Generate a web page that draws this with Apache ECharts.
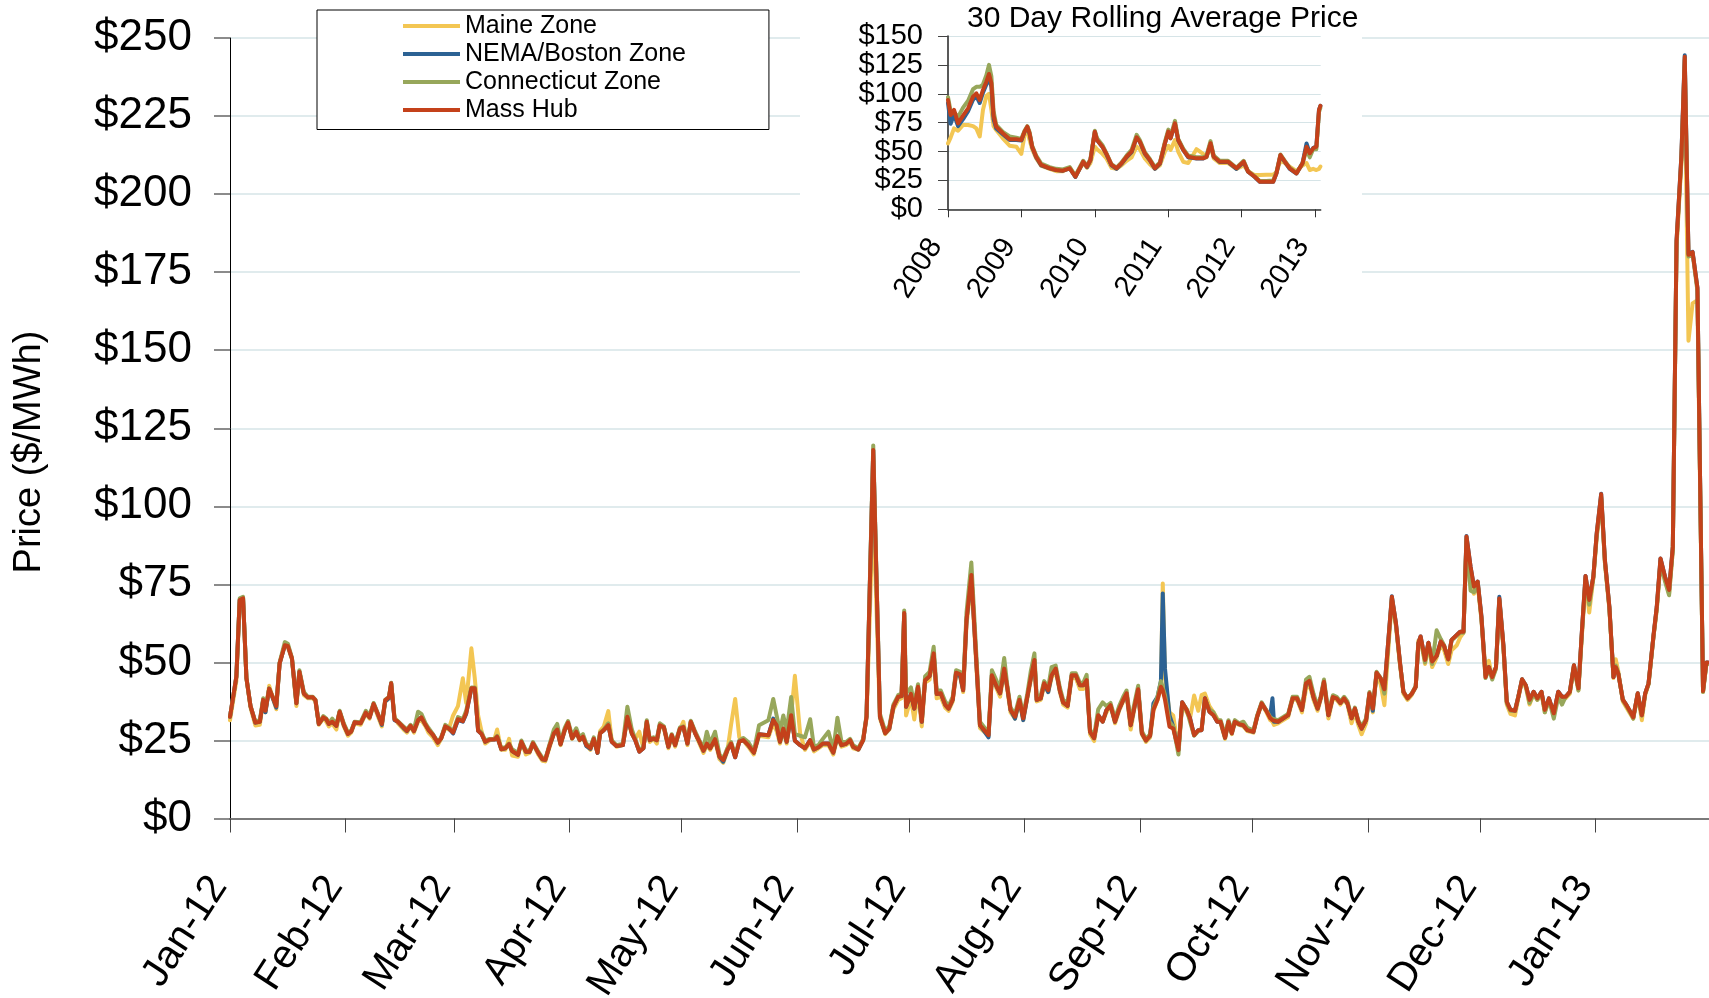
<!DOCTYPE html>
<html>
<head>
<meta charset="utf-8">
<title>ISO-NE Day-Ahead Zonal Prices</title>
<script src="https://cdn.jsdelivr.net/npm/echarts@6/dist/echarts.min.js"></script>
<style>
  html, body { margin: 0; padding: 0; background: #ffffff; }
  #chart { width: 1709px; height: 998px; }
</style>
</head>
<body>
<div id="chart"></div>
<script>
// ---- Daily prices, Jan 2012 - Jan 2013 ($/MWh); x = days after 1 Jan 2012 ----
const dayOffset = [
  0, 1.7, 2.6, 3.5, 4.4, 5.5, 6.8, 8.0, 8.9, 9.5,
  10.5, 12.4, 13.3, 14.7, 15.5, 16.6, 17.8, 18.6, 19.8, 20.9,
  22.2, 22.9, 23.8, 25.0, 25.8, 26.5, 27.4, 28.5, 29.4, 30.5,
  31.6, 32.5, 33.4, 35.0, 36.4, 37.4, 38.5, 39.7, 40.7, 41.6,
  42.6, 43.2, 44.1, 45.0, 46.5, 47.4, 48.4, 49.3, 50.4, 51.3,
  52.4, 53.2, 54.4, 55.7, 56.6, 57.7, 58.6, 59.8, 61.1, 62.4,
  63.3, 64.7, 65.6, 66.5, 67.4, 68.4, 69.6, 70.9, 71.6, 72.7,
  73.8, 74.8, 75.6, 77.2, 78.1, 79.3, 80.3, 81.2, 82.6, 83.7,
  84.5, 85.7, 86.8, 87.7, 88.6, 89.7, 90.6, 91.7, 92.8, 93.7,
  94.6, 95.5, 96.6, 97.5, 98.5,
  99.2, 100.2, 101.4, 102.3, 103.6, 105.3, 106.5, 107.7, 108.6, 109.7,
  110.8, 111.7, 112.5, 113.5, 114.4, 115.2, 116.3, 117.5, 118.4, 119.3,
  120.6, 121.5, 122.6, 123.5, 124.7, 125.8, 126.9, 127.8, 128.7, 130.0,
  131.2, 132.2, 133.3, 134.3, 135.4, 136.5, 137.6, 138.9, 140.4, 141.8,
  144.3, 145.6, 146.5, 147.4, 148.3, 149.2, 150.4, 151.4, 152.8, 154.1,
  155.5, 156.5, 157.7, 158.9, 160.4, 161.7, 162.8, 163.9, 165.1, 166.2,
  167.0, 168.4, 169.7, 170.6, 172.4, 174.2, 175.6, 176.7, 177.8, 179.1,
  180.0, 180.7, 181.2, 182.5, 183.4, 184.4, 185.4, 186.3, 187.5, 188.6,
  189.4, 190.5, 191.7, 192.6, 193.7, 194.6, 195.7, 196.5, 197.4, 198.7,
  201.0, 203.3, 204.2, 205.5, 206.4, 207.5, 208.3, 209.2, 210.4, 211.6,
  212.6, 213.7, 214.6, 215.6, 216.2, 217.3, 218.2, 219.3, 220.2, 221.3,
  222.4, 223.3, 224.5, 225.6, 226.7, 227.8, 228.7, 229.6, 230.5, 231.6,
  232.7, 233.9, 234.9, 236.0, 237.2, 238.3, 239.4, 240.3, 241.4, 242.6,
  243.4, 244.4, 245.5, 246.6, 247.5, 248.6, 249.5, 250.0, 250.6, 251.8,
  252.8, 254.2, 255.2, 256.4, 257.3, 258.4, 259.5, 260.4, 261.3, 262.5,
  263.6, 264.6, 265.5, 266.7, 267.6, 268.5, 269.3, 270.5, 271.6, 272.7,
  274.3, 275.3, 276.5, 277.6, 278.8, 279.4, 279.8, 280.9, 282.3, 283.6,
  284.8, 286.0, 287.3, 288.4, 289.3, 290.4, 291.5, 292.3, 293.2, 294.4,
  295.6, 296.6, 297.6,
  298.6, 299.5, 300.6, 301.5, 302.4, 303.3, 304.5, 305.4, 306.3, 307.3,
  308.4, 309.4, 311.4, 312.5, 313.6, 314.5, 315.6, 316.7, 317.8, 318.5,
  319.1, 320.3, 321.2, 322.2, 323.4, 324.5, 325.4, 326.5, 327.4, 328.8,
  329.7, 330.6, 331.4, 332.5, 333.4, 334.4, 335.4, 336.5, 337.4, 338.3,
  339.3, 340.2, 341.3, 342.2, 343.2, 344.4, 345.3, 346.3, 347.3, 348.3,
  349.4, 350.4, 351.5, 352.4, 353.5, 354.8, 356.0, 357.0, 358.0, 359.1,
  360.2, 361.4, 362.3, 363.3, 364.3, 365.4, 366.3, 367.5, 368.5, 369.7,
  370.8, 371.4, 372.1, 373.3, 374.3, 375.3, 376.1, 377.3, 378.4, 379.3,
  380.2, 381.5, 382.4, 383.4, 384.6, 385.7, 386.7, 387.7, 389.0, 389.9,
  390.9, 392.0, 393.3, 394.8, 395.7, 396.1
];

const massHub = [
  32.6, 45.4, 70, 70.5, 45, 36, 30.7, 31, 38, 34.5,
  41.6, 36, 49.7, 55.5, 55.3, 51.3, 36.9, 47, 40, 38.8,
  38.8, 37.9, 30.3, 32.4, 31.8, 30.3, 31, 29.7, 34.2, 30,
  27.1, 27.9, 30.8, 30.5, 33.9, 32.4, 36.7, 33.2, 30.3, 37.9,
  38.8, 43.3, 31.7, 31, 29.2, 28.1, 29.7, 28, 31.5, 32.4,
  30, 28.4, 26.8, 24.3, 25.7, 29.5, 28.9, 27.5, 31.8, 31.2,
  33.7, 41.7, 41.7, 28.1, 27.1, 24.6, 25.3, 25.3, 26.2, 22.2,
  22.5, 23.8, 21.6, 20.4, 24.6, 21.4, 21.4, 24.1, 21.1, 19,
  18.8, 23.5, 27.2, 28.5, 23.8, 28.3, 30.7, 25.7, 27.8, 25.2,
  26.2, 23.5, 22.5, 25.5, 21.1,
  27.3, 28.3, 29.9, 24.6, 23.2, 23.5, 32.6, 27.3, 25.1, 21.4,
  22.5, 31, 25.1, 25.6, 25.1, 29.9, 29.2, 23, 26.7, 23.5,
  28.8, 29.3, 24, 31, 27.3, 24.6, 21.7, 24, 22.5, 25.4,
  19.8, 18.7, 21.9, 24, 19.6, 24.6, 25.1, 23.5, 21.1, 27,
  26.7, 31.5, 29.9, 24.6, 28.8, 24.6, 33.1, 24.9, 23.5, 22.5,
  25.1, 22.1, 22.8, 24, 24, 21.1, 26.4, 23.5, 23.9, 25.1,
  23, 22.1, 25.1, 32.6, 118, 32.6, 27.3, 28.8, 35.8, 39,
  39.2, 65.8, 35.8, 39.9, 35.2, 42.2, 31, 44.3, 45.6, 52.9,
  39.9, 40.1, 36.4, 35.2, 38.1, 46.7, 46.2, 41.1, 63.6, 78,
  29.9, 26.7, 45.9, 42.2, 40.1, 48, 42.2, 34.8, 32.6, 38,
  32.1, 39, 44.9, 50.8, 38, 38.5, 43.3, 41.1, 45.9, 48,
  41.1, 37.2, 36.1, 45.9, 45.9, 42.7, 42.7, 44.3, 27.8, 25.7,
  33.1, 31, 34.7, 36.3, 31, 35, 38, 40.1, 29.9, 36.9,
  41.4, 27.3, 25, 26.5, 34.8, 38, 42.2, 41, 38, 29.4,
  28.8, 21.9, 37.2, 34.8, 32.1, 26.7, 28.3, 28.3, 38.5, 34.2,
  33.1, 31, 31, 25.9, 31, 27.3, 31, 30.2, 29.9, 28.3,
  27.8, 32.6, 36.9, 34.8, 32.1, 31.5, 31, 31, 32.1, 33.1,
  38.5, 38.5, 34.8, 43.3, 44.1, 38.9, 35.2, 38.5, 43.8, 33.1,
  38.9, 38.5, 37,
  38.5, 36.9, 32.1, 35.2, 31, 28.8, 31.5, 40.1, 35.2, 46.7,
  44.9, 41.4, 71, 62.5, 49.7, 40.6, 38.5, 39.9, 42.2, 56.1,
  58.3, 50.8, 56.3, 50.3, 52.1, 56.7, 55.3, 51, 57.2, 58.8,
  59.8, 59.8, 90.3, 80.6, 74.3, 75.9, 64.6, 45.3, 48.5, 45.3,
  48.5, 70.5, 55.5, 37.4, 34.8, 34.5, 39, 44.6, 42.7, 38,
  40.6, 38.5, 40.6, 34.8, 38.5, 33.7, 40.6, 39, 39, 40.6,
  49.1, 41.7, 59.3, 77.7, 70, 77.5, 91.3, 103.9, 82.8, 67.8,
  45.3, 48.5, 46.3, 38.1, 36.3, 34.2, 32.4, 40.1, 33.1, 40.1,
  43.3, 58.3, 67.8, 83.3, 77.5, 73.2, 87, 185, 212, 244,
  180.6, 181.4, 170, 40.8, 50, 50
];

const maine = [
  31.5, 44, 69, 70, 45, 35.5, 29.8, 30, 38, 34,
  42.5, 35, 49.7, 55.5, 55, 51, 36, 46.5, 39.5, 38.5,
  38.5, 37.5, 30, 32, 31, 29.5, 30.5, 28.5, 34, 29.5,
  26.5, 27.5, 30.5, 30, 33.5, 32, 36.5, 32.5, 29.5, 37.5,
  38.5, 43, 32.5, 30.5, 28.5, 27.5, 29.5, 27.5, 31, 31.5,
  29.5, 27.5, 26, 23.5, 25.5, 29, 28.5, 33, 36, 44.9,
  37, 54.5, 45, 33, 28, 24, 25, 25.5, 28.5, 22,
  22, 25.5, 20.2, 19.8, 24.8, 20.5, 21, 24, 20.5, 18.5,
  18.3, 23, 27, 28, 23.5, 28, 30.5, 25.5, 27.5, 25,
  26, 23.5, 22, 25.5, 21,
  28, 29.5, 34.4, 25, 23, 23.5, 32, 27, 25.5, 27.8,
  22.5, 30.5, 24.5, 25.5, 24, 29.5, 28.8, 22.5, 26, 23,
  28.5, 31, 23.5, 30.8, 27, 24, 21, 23.5, 22, 25,
  19, 17.8, 21.5, 30, 38.3, 26, 25, 23, 20.5, 26.5,
  26, 30.5, 28, 24, 28, 24, 33, 45.7, 27.3, 22,
  24.5, 21.5, 22.5, 23.5, 23.5, 20.5, 26, 23, 23.5, 24.5,
  22.5, 22, 25, 32, 100, 32, 27, 28.5, 35, 38,
  38.5, 65, 33, 38.5, 31.7, 41, 29.5, 43.5, 44.5, 52,
  38.5, 39, 35.5, 34.5, 37.5, 46, 45.5, 40.5, 62, 76,
  29, 26.5, 45, 41.5, 39, 47, 41.5, 34, 32, 37.5,
  31.5, 38.5, 44, 50, 37.5, 38, 42.5, 40.5, 45, 47.5,
  40.5, 36.5, 35.5, 45, 45, 41.5, 41.5, 44, 27, 24.8,
  32.5, 31, 34, 36, 30.5, 34.5, 37.5, 39.5, 28.5, 36.5,
  41, 27, 24.5, 26, 34.5, 38, 42, 75.3, 45, 34,
  33, 22, 36.5, 34, 32, 39.4, 34.5, 39.5, 40, 36,
  34, 32, 30.5, 25.5, 30.5, 27, 30.5, 30, 29.5, 28,
  27.5, 32.5, 36.5, 34.5, 31.5, 31, 30, 30.5, 31.5, 32.5,
  38, 38, 34, 41.5, 43, 38, 34.5, 38, 43, 32,
  38.5, 38, 36.5,
  38, 36.5, 30.5, 34, 30, 27, 30.5, 39.5, 34, 46,
  43, 36.3, 70, 61.5, 49, 40, 38, 39.5, 42, 57,
  57.5, 49.5, 55.5, 48.5, 51.5, 55.5, 54, 49.5, 53.9, 55.5,
  58, 59.5, 89, 75, 72, 75, 64, 47.5, 50.5, 45,
  48, 70, 54.5, 36.5, 33.5, 33, 38.5, 44, 42, 36.5,
  40, 38, 40, 34, 38, 33.5, 40, 38.5, 38.5, 40,
  48.5, 41, 58, 76, 66, 77, 90, 102.5, 82, 67,
  45, 51, 47, 37.5, 35.5, 33.5, 32, 39.5, 31.5, 39.5,
  43, 58, 67, 82.5, 76.5, 72, 86, 183, 210, 236,
  153, 165, 166, 40.5, 49.5, 49.5
];

const nemaBoston = [
  32.6, 45.4, 70, 70.5, 45, 36, 30.7, 31, 38, 34,
  41.6, 35.5, 49.7, 55.5, 55.3, 51.3, 36.9, 47, 40, 38.8,
  38.8, 37.9, 30.3, 32.4, 31.8, 30.3, 31, 29.7, 34.2, 30,
  27.1, 27.9, 30.8, 30.5, 33.9, 32.4, 36.7, 33.2, 30, 37.5,
  38.5, 43.3, 31.5, 31, 29, 28, 29.7, 28, 31.5, 32.4,
  30, 28.4, 26.8, 24.3, 25.7, 29.5, 28.9, 27.2, 31.5, 31,
  33.5, 41.7, 41.7, 28.1, 27.1, 24.6, 25.3, 25.3, 26.2, 22.2,
  22.5, 23.8, 21.6, 20.4, 24.6, 21.4, 21.4, 24.1, 21.1, 19,
  18.8, 23.5, 27.2, 28.5, 23.8, 28.3, 30.7, 25.7, 27.8, 25.2,
  26.2, 23.2, 22.3, 25.5, 21,
  27.3, 28.3, 29.9, 24.6, 23.2, 23.5, 32.6, 27.3, 25.1, 21.4,
  22.5, 31, 25.1, 25.6, 25.1, 29.9, 29.2, 23, 26.7, 23.5,
  28.8, 29.3, 24, 31, 27.3, 24.6, 21.7, 24, 22.5, 25.4,
  19.8, 18.2, 21.9, 24, 19.6, 24.6, 25.1, 23.5, 21.1, 27,
  26.7, 32, 29.9, 24.6, 28.8, 24.6, 33.1, 24.9, 23.5, 22.5,
  25.1, 22.1, 22.8, 24, 24, 21.1, 26.4, 23.5, 23.9, 25.1,
  23, 22.1, 25.1, 32.6, 118, 32.6, 27.3, 28.8, 35.8, 39,
  39.2, 65.8, 35.8, 39.9, 35.2, 42.2, 31, 44.3, 45.6, 52.9,
  39.9, 40.1, 36.4, 35.2, 38.1, 46.7, 45.5, 41.1, 63.6, 78,
  29.9, 26, 45.9, 42.2, 40.1, 48, 42.2, 34.8, 32, 38,
  31.5, 39, 44.9, 50.8, 38, 38.5, 43.3, 40.5, 45.9, 48,
  41.1, 37.2, 36.1, 45.9, 45.9, 42.7, 42.7, 44.3, 27.8, 25.7,
  33.1, 31, 34.7, 36.3, 31, 35, 38, 40.1, 29.9, 36.9,
  41.4, 27.3, 25, 26.5, 36.9, 39, 44, 72.1, 48, 33,
  29.4, 21.9, 37.2, 34.8, 32.1, 26.7, 28.3, 28.3, 38.5, 34.2,
  33.1, 31, 31, 25.9, 31, 27.3, 31, 30.2, 29.9, 28.3,
  27.8, 32.6, 36.9, 34.8, 33, 38.5, 31, 31, 32.1, 33.1,
  38.5, 38.5, 34.8, 43.3, 44.1, 38.9, 35.2, 38.5, 43.8, 33.1,
  38.9, 38.5, 37,
  38.5, 36.9, 32.1, 35.2, 31, 28.8, 31.5, 40.1, 34.5, 46.7,
  44.9, 41.4, 71.2, 62.5, 49.7, 40.6, 38.5, 39.9, 42.2, 56.1,
  58.3, 50.8, 56.3, 50.3, 52.1, 56.7, 55.3, 51, 57.2, 58.8,
  59.8, 59.8, 90.5, 80.6, 74.3, 75.9, 65, 46, 48.5, 45.3,
  48.5, 71, 55.5, 37.4, 34.8, 34.5, 39, 44.6, 42.7, 38,
  40.6, 38.5, 40.6, 34.8, 38.5, 33.7, 40.6, 39, 39, 40.6,
  49.1, 41.7, 59.3, 77.7, 70, 77.5, 91.3, 104, 82.8, 67.8,
  45.3, 48.5, 46.3, 38.1, 36.3, 34.2, 32.4, 40.1, 33.1, 40.1,
  43.3, 58.3, 67.8, 83.3, 77.5, 73.2, 87, 185, 212.5, 244.5,
  181, 181.5, 170, 40.8, 50, 50
];

const connecticut = [
  32.6, 45.4, 70.5, 71, 45, 36, 31, 31.5, 38.5, 35,
  41.6, 36.5, 50, 56.5, 56, 51.5, 37, 47.5, 40.5, 39,
  39, 38, 30.5, 32.8, 32, 30.5, 32, 30, 34.5, 30.5,
  27.5, 28.2, 31, 30.8, 34.5, 33, 37, 33.5, 30.5, 38,
  39, 43.5, 32, 31.2, 29.5, 28.5, 30, 28.5, 34.2, 33.5,
  30.5, 29, 27, 24.5, 26, 30, 29.2, 28, 32.5, 31.8,
  34.5, 42, 42, 28.5, 27.5, 25, 25.5, 25.5, 26.5, 22.5,
  22.8, 24, 22.2, 21, 25, 21.8, 21.8, 24.5, 21.5, 19.5,
  19, 24, 28.5, 30.3, 24.5, 29, 31.2, 26.5, 28.9, 26,
  27, 24, 23, 26, 21.5,
  27.5, 28.5, 30.5, 25, 23.5, 24, 35.8, 28.5, 25.5, 21.8,
  23, 31.5, 25.5, 26, 25.5, 30.5, 29.5, 23.5, 27, 24,
  29.2, 29.5, 24.5, 31.3, 27.8, 25, 22.5, 27.8, 24, 27.8,
  20.5, 19.2, 22.5, 24.5, 20.2, 25, 25.8, 24.5, 21.5, 29.9,
  31.5, 38.3, 33, 28, 33, 28, 38.9, 27, 26.5, 26,
  31.8, 23, 23.5, 25.5, 27.8, 22, 32.3, 24.5, 24.5, 25.5,
  23.5, 22.5, 25.5, 33, 119.5, 33.5, 28, 29.5, 36.5, 39.5,
  40, 66.6, 40, 42, 36.5, 43, 32, 45.5, 47, 55,
  41, 41, 37.5, 36, 39, 47.5, 47, 42.5, 66, 82,
  31, 27.5, 47.5, 44, 42, 51.4, 43, 35.5, 33.5, 39,
  33, 40, 47, 52.9, 39, 39.5, 44, 42, 48.5, 49,
  42, 38, 37, 46.5, 46.5, 43.5, 43.5, 46, 28.5, 26.5,
  35, 37.2, 36, 37, 32, 36, 39, 41, 31, 38,
  42.5, 28, 25.5, 27, 35.5, 39, 44, 44.3, 39.5, 31,
  29.5, 20.5, 37, 35, 31, 26.5, 28, 28.5, 38, 35,
  34, 31.5, 31.5, 26.5, 31.5, 28, 31.5, 30.5, 31, 29,
  28.2, 33, 37.2, 35, 32.5, 32, 31.5, 31.5, 32.5, 33.5,
  39, 39, 35.5, 44.5, 45.4, 40, 36, 39, 44.5, 34,
  39.5, 39, 37.5,
  39, 37.5, 32.5, 35.5, 31.5, 29.5, 32, 40.5, 35.5, 47,
  45, 40, 70.5, 62, 49.5, 40.5, 38.5, 40, 42.5, 56,
  57.5, 50, 56, 49.5, 60.3, 57.5, 55.5, 51, 57, 58.5,
  59.5, 59.5, 89.5, 73, 72.5, 75.5, 64, 45, 48, 44.5,
  48, 70, 55, 37, 34.5, 34.5, 39, 44.5, 42.5, 37,
  40, 38, 40.5, 34, 38, 32, 39, 36.5, 39, 40.5,
  49, 41, 58.5, 77, 68.5, 77, 90.5, 103, 82, 67.5,
  45.5, 49, 46.5, 38, 36, 34, 32, 40, 33, 40,
  43, 58, 67, 82, 76, 71.5, 86, 184, 211, 243,
  180, 181, 169, 40.5, 49.5, 49.5
];

// ---- 30-day rolling average, 2008 - Jan 2013; x = days after 1 Jan 2008 ----
const rollDay = [
  0, 13, 30, 50, 75, 100, 125, 141, 158, 174,
  191, 204, 216, 227, 240, 273, 307, 340, 365, 381,
  395, 406, 419, 439, 464, 506, 539, 572, 606, 634,
  673, 692, 709, 731, 742, 769, 789, 814, 839, 864,
  889, 914, 939, 955, 980, 1005, 1030, 1055, 1080, 1097,
  1108, 1130, 1146, 1171, 1196, 1237, 1270, 1287, 1307, 1323,
  1353, 1394, 1436, 1472, 1494, 1527, 1552, 1585, 1619, 1635,
  1655, 1677, 1701, 1735, 1765, 1785, 1801, 1818, 1834, 1847,
  1854
];
const rollMassHub = [
  94.6, 81.6, 86, 74.4, 81.1, 87.4, 97.5, 100.4, 94.6, 103.3,
  110.5, 117.1, 109, 81, 71.5, 65.8, 60.6, 60.6, 60, 67.2,
  71.5, 65.8, 54.2, 45.5, 38.4, 35.5, 34, 33.4, 35.5, 28.2,
  41.2, 36.9, 42.7, 67.2, 60, 54.2, 47.9, 38.4, 35.5, 39.8,
  45.5, 49.9, 62.3, 58.6, 48.5, 42.7, 35.5, 39.8, 57.2, 67.2,
  61.5, 74.4, 60, 51.4, 45.5, 44.1, 44.1, 45.5, 57.2, 45.5,
  41.2, 41.2, 35.5, 41.2, 32.6, 28.2, 23.9, 23.9, 23.9, 31.1,
  47, 41.2, 35.5, 31.1, 39.8, 54.2, 48.5, 52.8, 54.2, 86.1,
  89.6
];
const rollMaine = [
  57, 62, 70, 68, 73, 73, 72, 70, 63, 86,
  98, 100, 86, 72, 68.6, 61.4, 55, 54.2, 48, 64,
  68.6, 60, 52, 44, 37.5, 35, 33, 33, 36, 28.5,
  40, 36, 40, 54.2, 52, 48, 44, 36, 35, 38,
  42, 45, 54.2, 52, 44, 39, 35, 38, 50, 55,
  51.4, 60, 50, 41.2, 40, 52, 48, 45, 55, 44,
  40, 40, 35, 38, 33, 29.6, 29.6, 30, 30, 32,
  42, 40, 37, 33, 38, 40, 34, 35, 34, 35,
  37
];
const rollNemaBoston = [
  92, 74, 82, 72, 78, 85, 95, 98, 92, 101,
  108, 114, 106, 78, 70, 65, 60, 60, 59.5, 67,
  71, 65.5, 54, 45, 38, 35.5, 34, 33.4, 35.5, 28,
  41, 36.5, 42.5, 67, 60, 54, 47.5, 38, 35, 39.5,
  45, 49.5, 62, 58.5, 48, 42.5, 35, 39.5, 57, 67,
  61.5, 74, 60, 51.4, 45, 44, 44, 45.5, 57, 45.5,
  41, 41, 35, 41, 32.5, 28, 23.9, 23.9, 23.9, 31,
  46.5, 41, 35, 31, 40, 57, 48.5, 53, 54.5, 86,
  89.6
];
const rollConnecticut = [
  97, 85, 84, 80, 88, 94, 104, 106, 106, 108,
  116, 125, 115, 85, 73, 67, 63, 62, 61, 68,
  72, 67, 55, 46.5, 39.5, 36.5, 35, 34.5, 36.5, 29,
  42, 37.5, 43.5, 68, 61.5, 55.5, 48.5, 39, 36, 40.5,
  46.5, 51.5, 64.5, 60, 49.5, 43.5, 36.5, 40.5, 58.5, 69,
  63, 76.5, 61, 52.5, 46.5, 45, 45, 46.5, 59, 46.5,
  42, 42, 36, 42, 33, 28.5, 24.5, 24.5, 25, 32,
  47.5, 42, 36, 31.5, 39.5, 52, 45, 52, 52, 84,
  88
];

// ---- Axis ticks ----
const monthTickLabels = ['Jan-12', 'Feb-12', 'Mar-12', 'Apr-12', 'May-12', 'Jun-12', 'Jul-12',
  'Aug-12', 'Sep-12', 'Oct-12', 'Nov-12', 'Dec-12', 'Jan-13'];
const monthTickDates = [[2012, 0], [2012, 1], [2012, 2], [2012, 3], [2012, 4], [2012, 5], [2012, 6],
  [2012, 7], [2012, 8], [2012, 9], [2012, 10], [2012, 11], [2013, 0]];
const yearTickLabels = ['2008', '2009', '2010', '2011', '2012', '2013'];

const seriesNames = ['Maine Zone', 'NEMA/Boston Zone', 'Connecticut Zone', 'Mass Hub'];
const seriesColors = ['#F3C653', '#2C6294', '#97A75B', '#C4411A'];

// ---- Build ----
const FONT = "'Liberation Sans', Arial, Helvetica, sans-serif";
const DAY_MS = 86400000;
const dailyStart = new Date(2012, 0, 1).getTime();
const rollStart = new Date(2008, 0, 1).getTime();

const monthTickValues = monthTickDates.map(([y, m]) => new Date(y, m, 1).getTime());
const yearTickValues = yearTickLabels.map(y => new Date(+y, 0, 1).getTime());
const monthLabelOf = new Map(monthTickValues.map((t, i) => [t, monthTickLabels[i]]));
const yearLabelOf = new Map(yearTickValues.map((t, i) => [t, yearTickLabels[i]]));

function toPoints(start, days, values) {
  return days.map((d, i) => [start + d * DAY_MS, values[i]]);
}

const dailySets = [maine, nemaBoston, connecticut, massHub];
const rollSets = [rollMaine, rollNemaBoston, rollConnecticut, rollMassHub];

const series = [];
dailySets.forEach((vals, i) => {
  series.push({
    name: seriesNames[i], type: 'line', xAxisIndex: 0, yAxisIndex: 0,
    data: toPoints(dailyStart, dayOffset, vals),
    symbol: 'none', showSymbol: false, z: 2 + i * 0.1,
    lineStyle: { color: seriesColors[i], width: 4, join: 'round', cap: 'round' },
    itemStyle: { color: seriesColors[i] }
  });
});
rollSets.forEach((vals, i) => {
  series.push({
    name: seriesNames[i], type: 'line', xAxisIndex: 1, yAxisIndex: 1,
    data: toPoints(rollStart, rollDay, vals),
    symbol: 'none', showSymbol: false, z: 5 + i * 0.1,
    lineStyle: { color: seriesColors[i], width: 4, join: 'round', cap: 'round' },
    itemStyle: { color: seriesColors[i] }
  });
});

const gridColor = '#d6e4e7';

// date positions sit on plain value axes (milliseconds), ticks placed on month / year starts
const option = {
  animation: false,
  backgroundColor: '#ffffff',
  textStyle: { fontFamily: FONT },
  title: {
    text: '30 Day Rolling Average Price',
    left: 962, top: -1,
    textStyle: { fontFamily: FONT, fontSize: 30, fontWeight: 'normal', color: '#000' }
  },
  legend: {
    data: seriesNames,
    orient: 'vertical',
    left: 317, top: 10,
    icon: 'rect',
    itemWidth: 57, itemHeight: 4, itemGap: 3,
    padding: [3.5, 83, 7, 86],
    backgroundColor: '#ffffff',
    borderColor: '#000000', borderWidth: 1, borderRadius: 0,
    textStyle: { fontFamily: FONT, fontSize: 25, color: '#000', lineHeight: 25 }
  },
  grid: [
    { left: 230, top: 38, right: 0, bottom: 179.5, outerBoundsMode: 'none', containLabel: false },
    { left: 948, top: 36, width: 372.7, height: 173.3, outerBoundsMode: 'none', containLabel: false }
  ],
  xAxis: [
    {
      type: 'value', gridIndex: 0,
      min: dailyStart, max: dailyStart + 396.4 * DAY_MS,
      axisLine: { show: true, lineStyle: { color: '#7a7a7a', width: 2 } },
      axisTick: { show: true, customValues: monthTickValues, length: 14, lineStyle: { color: '#444', width: 1 } },
      axisLabel: {
        customValues: monthTickValues,
        formatter: v => monthLabelOf.get(v) || '',
        rotate: 57, align: 'right', verticalAlign: 'bottom', margin: 69, lineHeight: 27,
        fontFamily: FONT, fontSize: 40, color: '#000'
      },
      splitLine: { show: false }
    },
    {
      type: 'value', gridIndex: 1, z: 3,
      min: rollStart, max: rollStart + 1855.5 * DAY_MS,
      axisLine: { show: true, lineStyle: { color: '#333', width: 1.5 } },
      axisTick: { show: true, customValues: yearTickValues, length: 8, lineStyle: { color: '#333', width: 1 } },
      axisLabel: {
        customValues: yearTickValues,
        formatter: v => yearLabelOf.get(v) || '',
        rotate: 57, align: 'right', verticalAlign: 'bottom', margin: 40,
        fontFamily: FONT, fontSize: 29, color: '#000'
      },
      splitLine: { show: false }
    }
  ],
  yAxis: [
    {
      type: 'value', gridIndex: 0, min: 0, max: 250, interval: 25,
      axisLine: { show: true, lineStyle: { color: '#000', width: 1 } },
      axisTick: { show: true, length: 16, lineStyle: { color: '#666', width: 1.5 } },
      axisLabel: {
        formatter: v => '$' + v, margin: 38, fontFamily: FONT, fontSize: 44, color: '#000',
        showMinLabel: true, showMaxLabel: true, hideOverlap: false
      },
      splitLine: { show: true, lineStyle: { color: gridColor, width: 1.5 } }
    },
    {
      type: 'value', gridIndex: 1, min: 0, max: 150, interval: 25, z: 3,
      axisLine: { show: true, lineStyle: { color: '#222', width: 1.5 } },
      axisTick: { show: true, length: 10, lineStyle: { color: '#444', width: 1 } },
      axisLabel: {
        formatter: v => '$' + v, margin: 25, fontFamily: FONT, fontSize: 29, color: '#000',
        lineHeight: 26, showMinLabel: true, showMaxLabel: true, hideOverlap: false
      },
      splitLine: { show: true, lineStyle: { color: gridColor, width: 1 } }
    }
  ],
  graphic: [
    // white panel of the inset chart, over the main grid lines
    { type: 'rect', z: 1, silent: true, shape: { x: 800, y: 0, width: 562, height: 318 }, style: { fill: '#ffffff' } },
    {
      type: 'text', z: 5, x: 30, y: 452, rotation: Math.PI / 2,
      style: { text: 'Price ($/MWh)', fontFamily: FONT, fontSize: 38, fill: '#000', align: 'center', verticalAlign: 'middle' }
    }
  ],
  series: series
};

const chart = echarts.init(document.getElementById('chart'), null, { renderer: 'canvas' });
chart.setOption(option);
</script>
</body>
</html>
